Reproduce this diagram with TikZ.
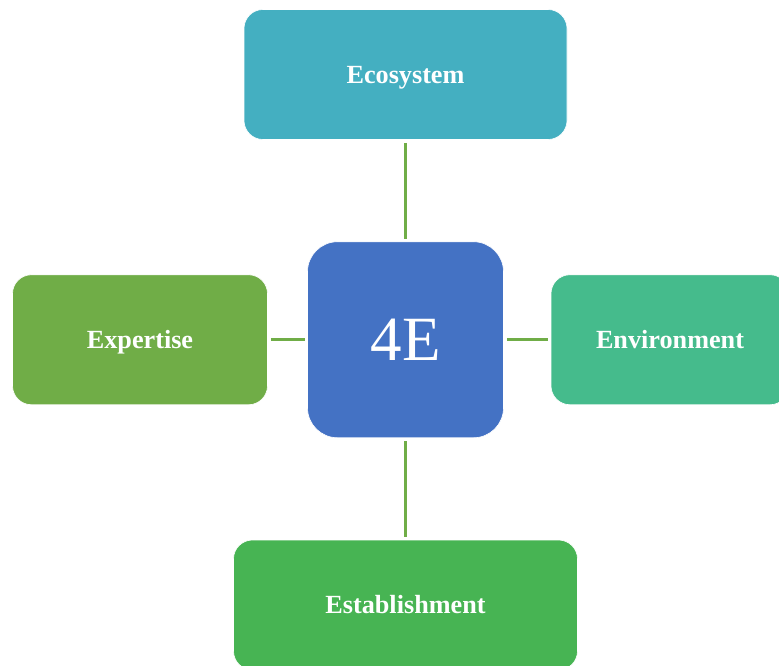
\documentclass[tikz,border=0pt]{standalone}
\usepackage{fontspec}
\setmainfont{Liberation Serif}
\definecolor{cteal}{HTML}{44AFC1}
\definecolor{cblue}{HTML}{4472C4}
\definecolor{cgreen}{HTML}{70AD47}
\definecolor{cmint}{HTML}{45BB8C}
\definecolor{cest}{HTML}{47B453}
\definecolor{cline}{HTML}{70AD47}
\tikzset{
  box/.style={rectangle, rounded corners=19pt, draw=white, line width=0.6pt, inner sep=0pt,
    text=white, text height=17.4pt, text depth=0pt, font=\bfseries\fontsize{26.2}{30}\selectfont},
  link/.style={draw=cline, line width=2.6pt, shorten <=3pt, shorten >=2.5pt}
}
\begin{document}
\begin{tikzpicture}[x=1pt,y=-1pt]
\useasboundingbox (0,0) rectangle (779,666);
\clip (0,0) rectangle (779,666);
\node[box, fill=cteal, minimum width=323pt, minimum height=130pt] (eco) at (405.5,74.5) {Ecosystem};
\node[box, fill=cblue, rounded corners=30pt, minimum width=196pt, minimum height=196pt,
  text height=42pt, font=\fontsize{63}{70}\selectfont] (core) at (405.5,339.75) {4E};
\node[box, fill=cgreen, minimum width=255pt, minimum height=130pt] (exp) at (140,339.75) {Expertise};
\node[box, fill=cmint, minimum width=238pt, minimum height=130pt] (env) at (670,339.75) {Environment};
\node[box, fill=cest, minimum width=344pt, minimum height=130pt] (est) at (405.5,605) {Establishment};
\draw[link] (eco.south) -- (core.north);
\draw[link] (core.south) -- (est.north);
\draw[link] (exp.east) -- (core.west);
\draw[link] (core.east) -- (env.west);
\end{tikzpicture}
\end{document}
